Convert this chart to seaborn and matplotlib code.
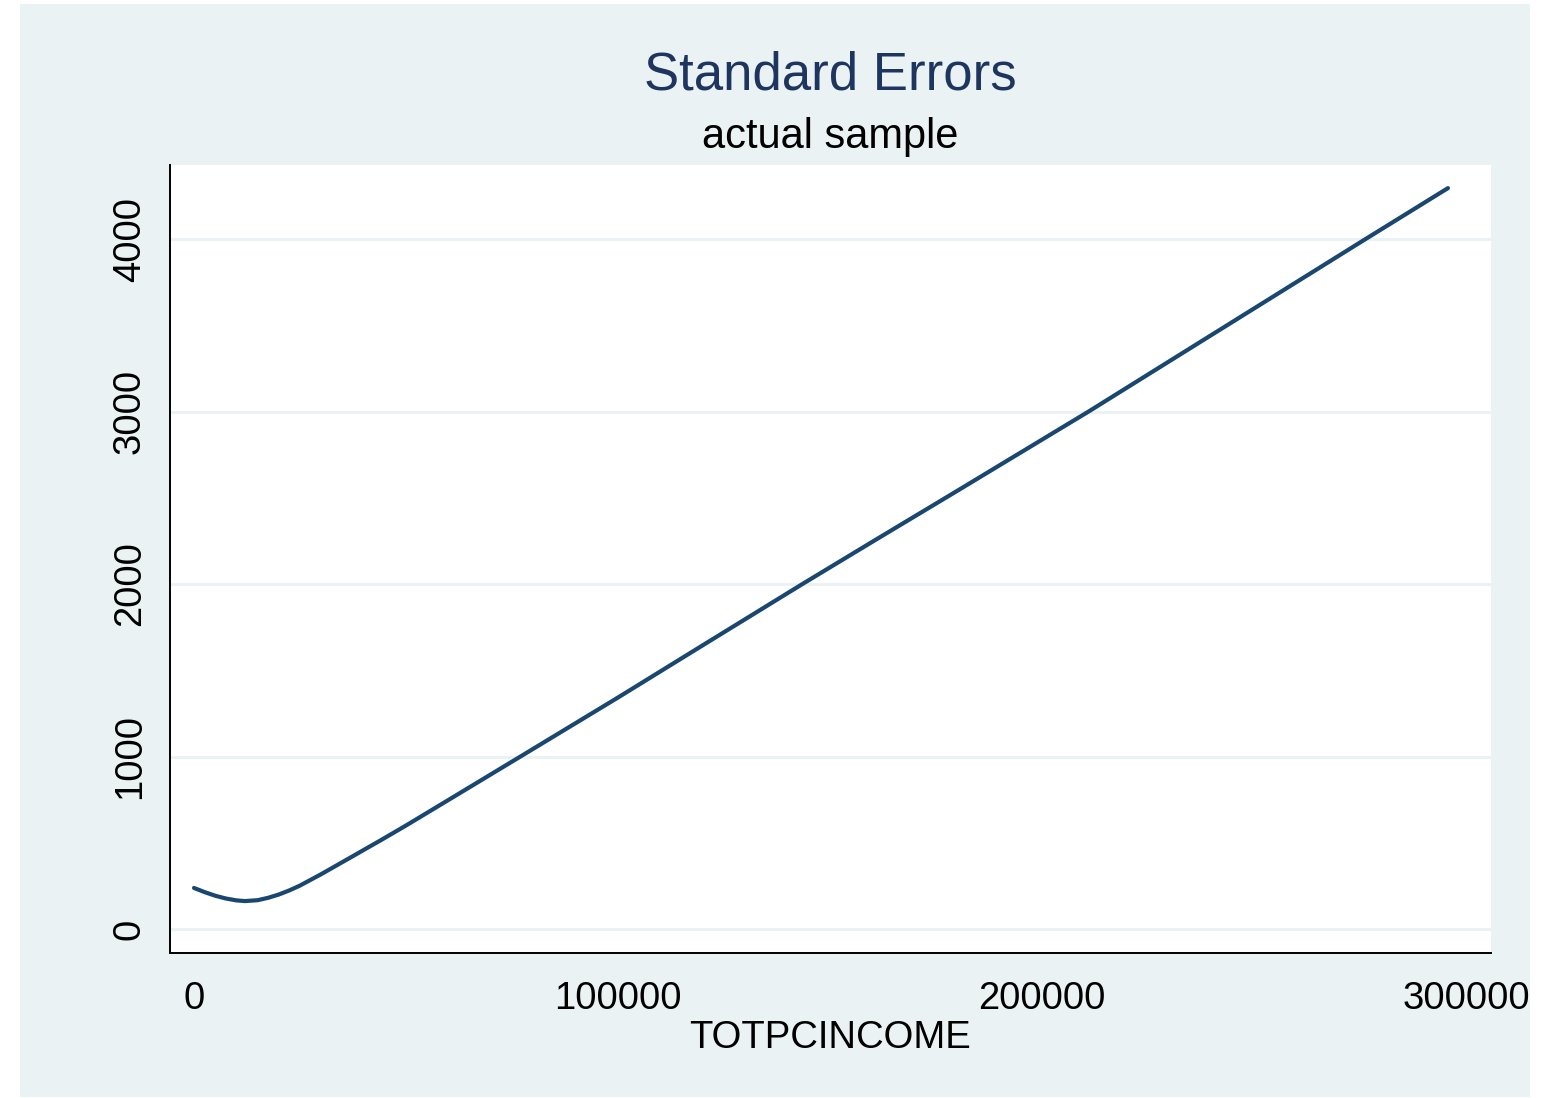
import numpy as np
import pandas as pd
import matplotlib
matplotlib.use("Agg")
import matplotlib.pyplot as plt
from matplotlib.patches import Rectangle
import seaborn as sns

# values
income = [0, 2500, 5000, 7500, 10000, 12000, 15000, 17500, 20000, 22500, 25000,
          30000, 36800, 40000, 44000, 50000, 60000, 77000, 100000, 120000,
          143500, 160000, 180000, 211000, 240000, 260000, 276000, 295750]
std_err = [238, 214, 193, 177, 166, 162, 167, 181, 200, 224, 252,
           318, 413, 458, 514, 600, 748, 1000, 1342, 1645,
           2000, 2245, 2540, 3000, 3444, 3750, 3995, 4295]
x_ticks = [0, 100000, 200000, 300000]
y_ticks = [0, 1000, 2000, 3000, 4000]

BG = "#EAF2F3"
NAVY = "#1A476F"

sns.set_style("white")
plt.rcParams["font.family"] = ["Liberation Sans", "DejaVu Sans"]

fig = plt.figure(figsize=(15.41, 10.98), dpi=100, facecolor="white")
# light bluish graph region with thin white margin around it
fig.patches.append(Rectangle((20 / 1541, 1 - 1097 / 1098), 1510 / 1541, 1093 / 1098,
                             transform=fig.transFigure, facecolor=BG,
                             edgecolor="none", zorder=-10))

ax = fig.add_axes([170 / 1541, 1 - 953 / 1098, 1321 / 1541, 788 / 1098])
ax.set_facecolor("white")
ax.set_zorder(5)

df = pd.DataFrame({"TOTPCINCOME": income, "se": std_err})
sns.lineplot(data=df, x="TOTPCINCOME", y="se", ax=ax, color=NAVY, lw=3.0,
             estimator=None, zorder=3)

ax.set_xlim(-5660, 305900)
ax.set_ylim(-139, 4429)
ax.set_xticks(x_ticks)
ax.set_xticklabels([str(t) for t in x_ticks])
ax.set_yticks(y_ticks)
ax.set_yticklabels([str(t) for t in y_ticks], rotation=90, va="center")
for t in y_ticks:
    ax.axhline(t, color=BG, lw=2.2, zorder=1)

for s in ["top", "right"]:
    ax.spines[s].set_visible(False)
for s in ["left", "bottom"]:
    ax.spines[s].set_color("black")
    ax.spines[s].set_linewidth(1.4)

ax.tick_params(axis="both", which="major", length=11, width=1.2, color="black",
               labelsize=27.5, labelcolor="black", direction="out")
ax.tick_params(axis="y", pad=5)
ax.tick_params(axis="x", pad=9)

ax.set_xlabel("TOTPCINCOME", fontsize=27.5, color="black", labelpad=2)
ax.set_ylabel("")

cx = (170 + 1491) / 2 / 1541
fig.text(cx, 1 - 75 / 1098, "Standard Errors", ha="center", va="center",
         fontsize=38, color="#1E3560")
fig.text(cx, 1 - 137 / 1098, "actual sample", ha="center", va="center",
         fontsize=30, color="black")

fig.savefig("out.png", dpi=100, facecolor="white")
